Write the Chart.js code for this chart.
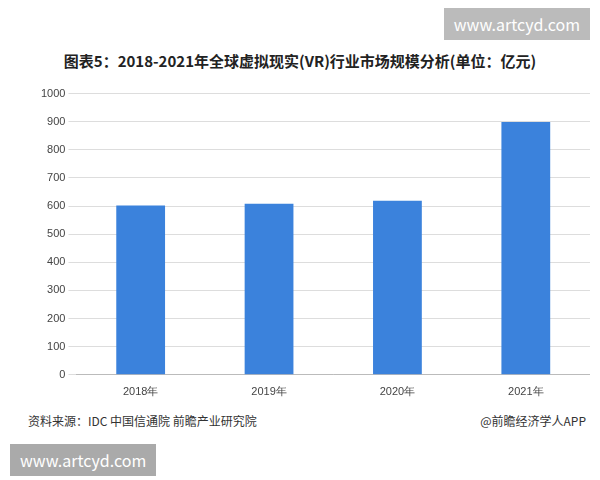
<!DOCTYPE html>
<html><head><meta charset="utf-8">
<script src="https://cdn.jsdelivr.net/npm/chart.js@4"></script>
<style>
body{margin:0;width:600px;height:480px;background:#fff;font-family:"Noto Sans CJK SC",sans-serif;position:relative;overflow:hidden}
#title{position:absolute;top:50px;left:0;width:600px;text-align:center;font-weight:bold;font-size:15px;color:#222}
#wrap{position:absolute;left:38px;top:84px;width:552px;height:318px}
.src{position:absolute;top:412px;font-size:12px;color:#333}
.wm{position:absolute;background:#bbb;color:#fff;font-size:16px;padding:4px 10px}
</style></head><body>
<div class="wm" style="top:8px;right:10px">www.artcyd.com</div>
<div id="title">图表5：2018-2021年全球虚拟现实(VR)行业市场规模分析(单位：亿元)</div>
<div id="wrap"><canvas id="c"></canvas></div>
<div class="src" style="left:28px">资料来源：IDC 中国信通院 前瞻产业研究院</div>
<div class="src" style="right:14px">@前瞻经济学人APP</div>
<div class="wm" style="top:444px;left:10px;background:#aaa">www.artcyd.com</div>
<script>
const categories = ['2018年','2019年','2020年','2021年'];
const values = [602, 608, 619, 899];

new Chart(document.getElementById('c'), {
    type: 'bar',
    data: {
        labels: categories,
        datasets: [{ data: values, backgroundColor: '#3b82dc', barPercentage: 0.38, categoryPercentage: 1 }]
    },
    options: {
        responsive: true, maintainAspectRatio: false, animation: false,
        plugins: { legend: { display: false }, tooltip: { enabled: false } },
        scales: {
            x: { grid: { display: false }, border: { color: '#bbb' }, ticks: { color: '#444', font: { size: 11 } } },
            y: { min: 0, max: 1000, ticks: { stepSize: 100, color: '#444', font: { size: 11 }, callback: v => String(v) },
                 grid: { color: '#ddd' }, border: { display: false } }
        }
    }
});
</script>
</body></html>
